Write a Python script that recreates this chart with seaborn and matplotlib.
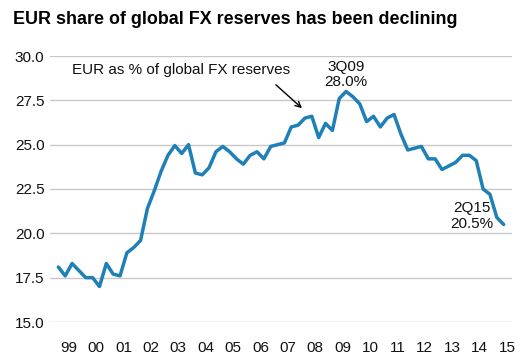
import numpy as np
import pandas as pd
import matplotlib
matplotlib.use("Agg")
import matplotlib.pyplot as plt
import seaborn as sns

# quarterly EUR share of global FX reserves, 1Q99 - 2Q15 (%)
years = [1999, 2000, 2001, 2002, 2003, 2004, 2005, 2006, 2007,
         2008, 2009, 2010, 2011, 2012, 2013, 2014, 2015]
eur_share = [
    18.1, 17.6, 18.3, 17.9,   # 1999
    17.5, 17.5, 17.0, 18.3,   # 2000
    17.7, 17.6, 18.9, 19.2,   # 2001
    19.6, 21.4, 22.4, 23.5,   # 2002
    24.4, 24.95, 24.5, 25.0,  # 2003
    23.4, 23.3, 23.7, 24.6,   # 2004
    24.9, 24.6, 24.2, 23.9,   # 2005
    24.4, 24.6, 24.2, 24.9,   # 2006
    25.0, 25.1, 26.0, 26.1,   # 2007
    26.5, 26.6, 25.4, 26.2,   # 2008
    25.8, 27.6, 28.0, 27.7,   # 2009
    27.3, 26.3, 26.6, 26.0,   # 2010
    26.5, 26.7, 25.6, 24.7,   # 2011
    24.8, 24.9, 24.2, 24.2,   # 2012
    23.6, 23.8, 24.0, 24.4,   # 2013
    24.4, 24.1, 22.5, 22.2,   # 2014
    20.9, 20.5,               # 2015
]
year_labels = ["99", "00", "01", "02", "03", "04", "05", "06", "07",
               "08", "09", "10", "11", "12", "13", "14", "15"]
y_ticks = [15.0, 17.5, 20.0, 22.5, 25.0, 27.5, 30.0]

# quarter midpoints as fractional years
quarters = [(y, q) for y in years for q in range(1, 5)][:len(eur_share)]
df = pd.DataFrame({
    "t": [y + (q - 0.5) / 4 for y, q in quarters],
    "share": eur_share,
})

sns.set_style("white")
plt.rcParams["font.family"] = ["Liberation Sans", "DejaVu Sans"]

fig = plt.figure(figsize=(5.32, 3.6), dpi=100)
ax = fig.add_axes([50 / 532, 1 - 322 / 360, 462 / 532, 266 / 360])

sns.lineplot(data=df, x="t", y="share", ax=ax, color="#1f80b8", linewidth=2.5)

ax.set_xlim(1998.82, 2015.68)
ax.set_ylim(15, 30)
ax.set_yticks(y_ticks)
ax.set_yticklabels([f"{v:.1f}" for v in y_ticks])
ax.yaxis.grid(True, color="#c8c8c8", linewidth=1)
ax.tick_params(axis="y", length=0, pad=4, labelsize=11, labelcolor="#111111")

for s in ax.spines.values():
    s.set_visible(False)
ax.spines["bottom"].set_position(("outward", 9))

ax.set_xticks(years)
ax.set_xticklabels([])
ax.set_xticks([y + 0.5 for y in years], minor=True)
ax.set_xticklabels(year_labels, minor=True)
ax.tick_params(axis="x", which="major", length=3, width=1, color="#555555", direction="out")
ax.tick_params(axis="x", which="minor", length=0, pad=5, labelsize=11, labelcolor="#111111")
ax.set_xlabel("")
ax.set_ylabel("")

ax.text(2003.6, 29.21, "EUR as % of global FX reserves", ha="center", va="center",
        fontsize=11, color="#111111")
ax.annotate("", xy=(2008.09, 26.95), xytext=(2006.99, 28.48),
            arrowprops=dict(arrowstyle="->", color="black", lw=1, mutation_scale=10))
ax.text(2009.62, 28.98, "3Q09\n28.0%", ha="center", va="center",
        fontsize=11, color="#111111", linespacing=1.1)
ax.text(2014.22, 20.98, "2Q15\n20.5%", ha="center", va="center",
        fontsize=11, color="#111111", linespacing=1.1)

fig.text(13 / 532, 1 - 24 / 360, "EUR share of global FX reserves has been declining",
         ha="left", va="baseline", fontsize=12.9, fontweight="bold", color="black")

fig.savefig("out.png", dpi=100)
